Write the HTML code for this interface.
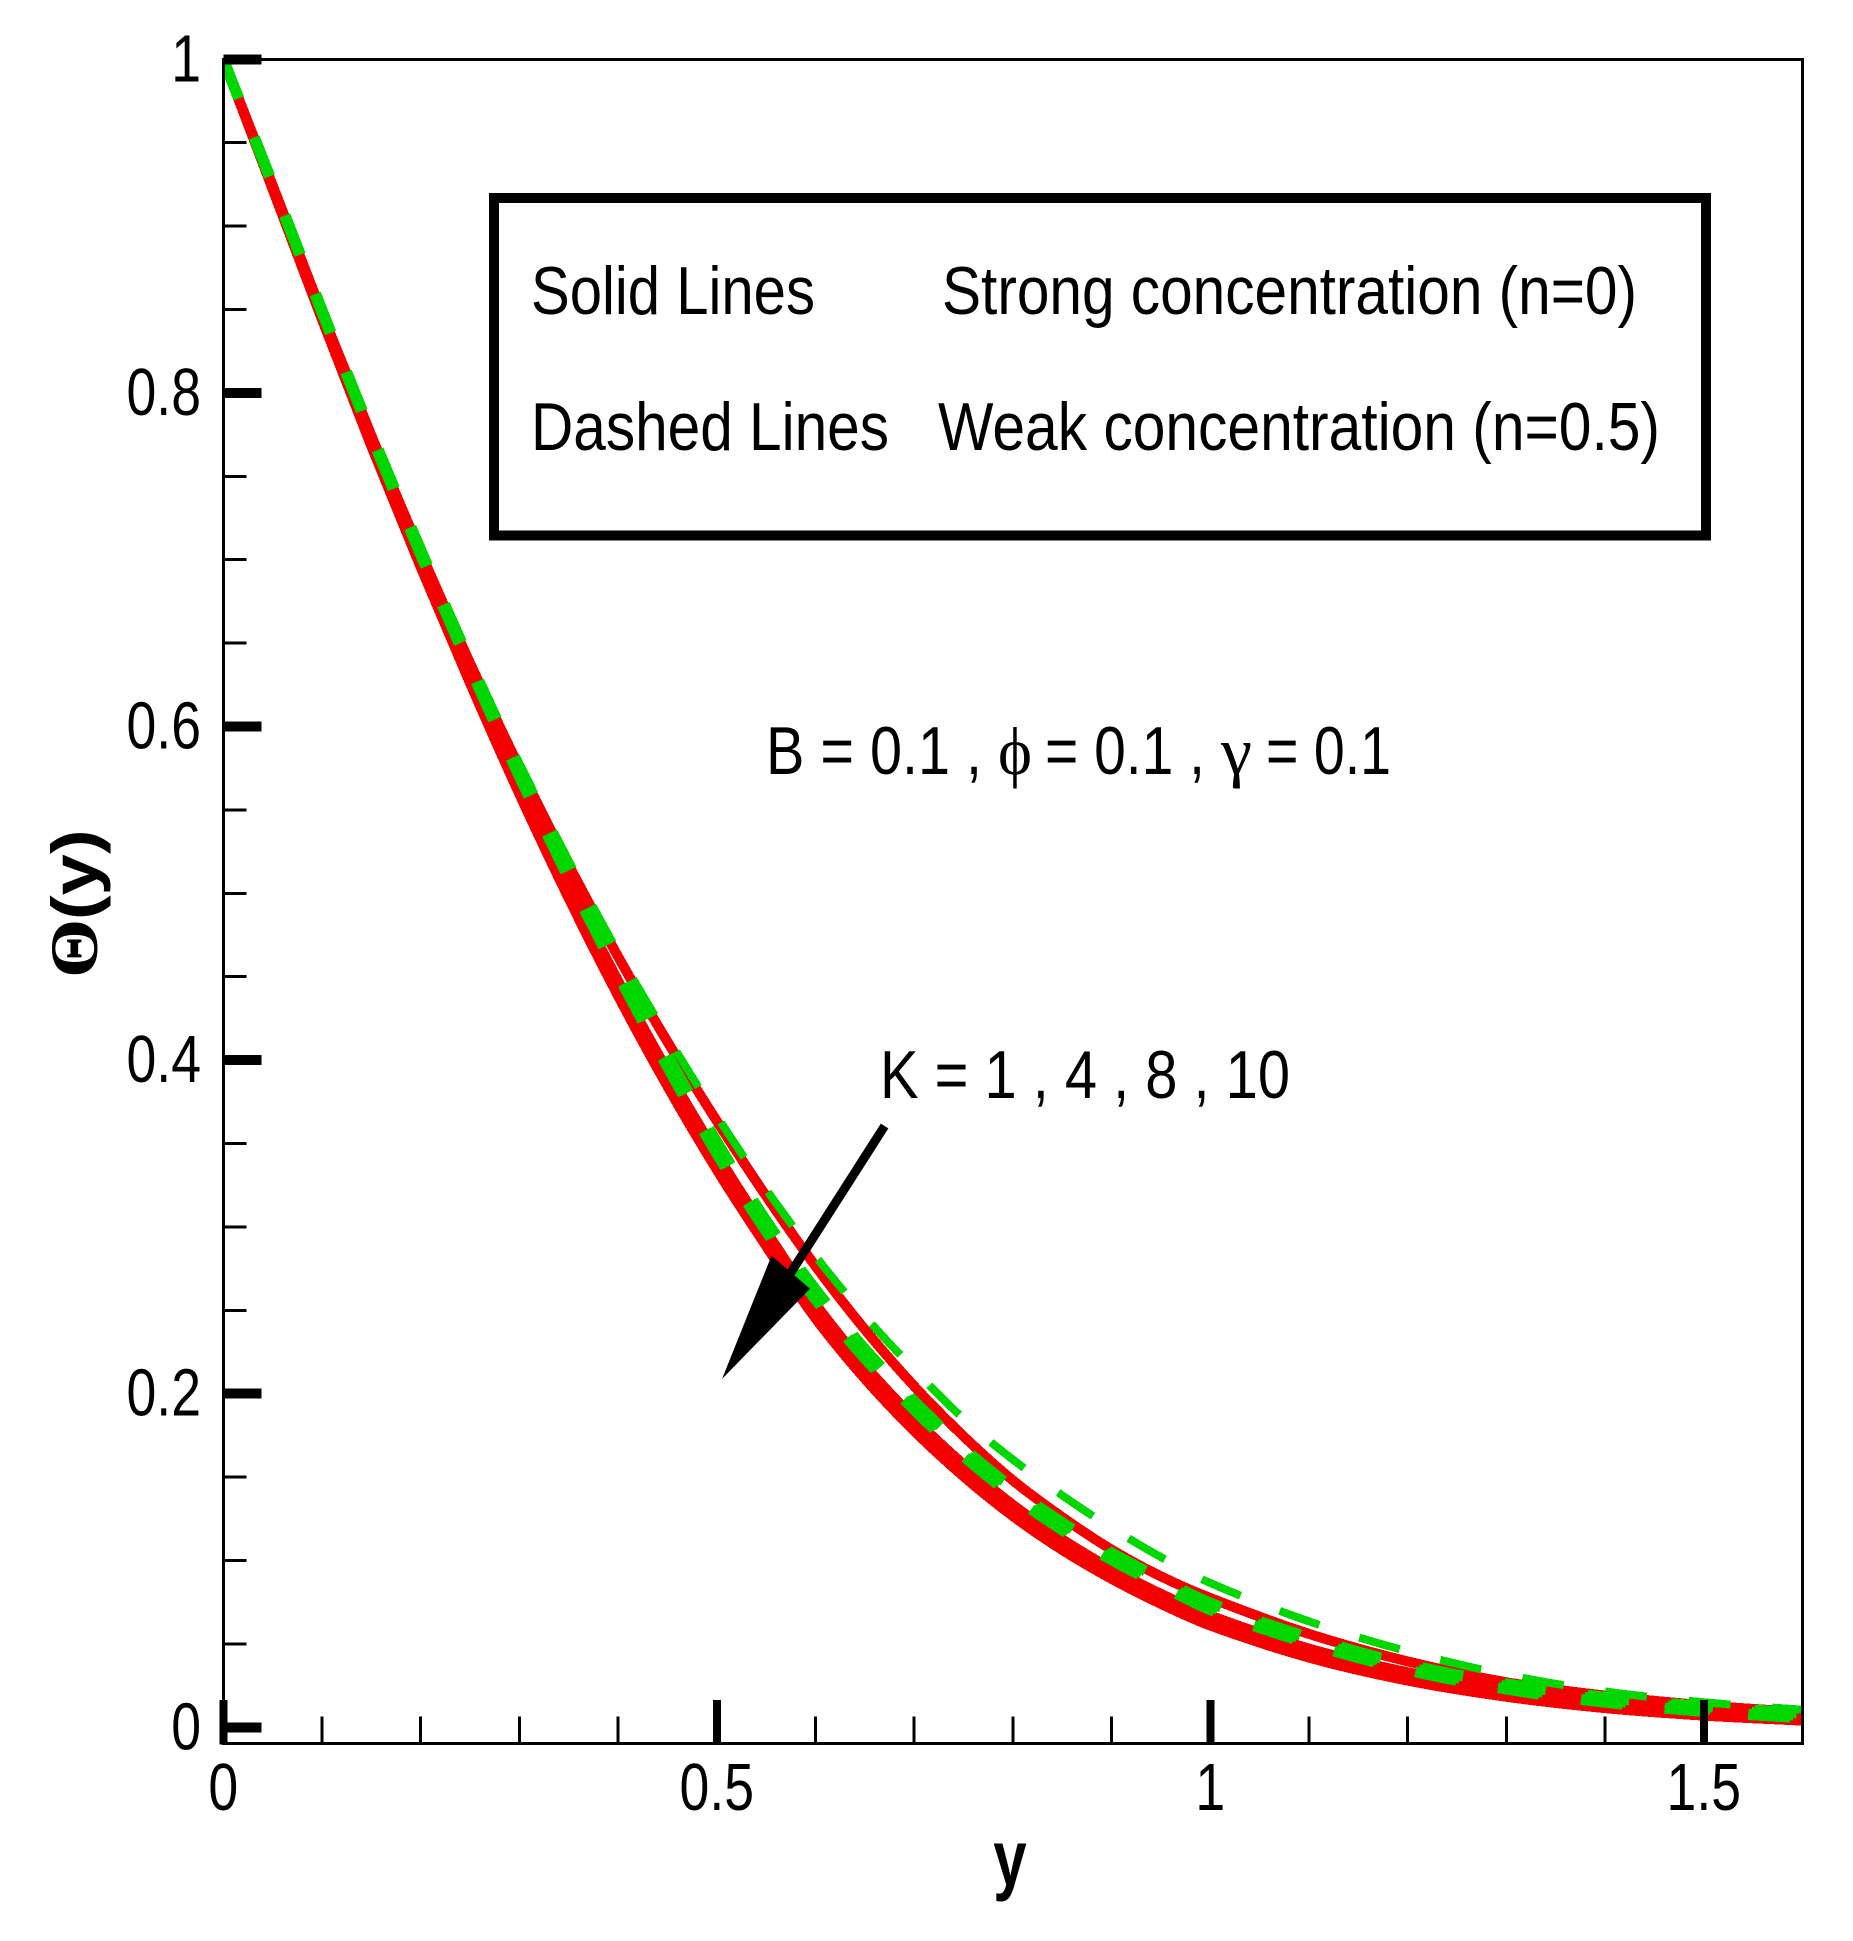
<!DOCTYPE html>
<html lang="en">
<head>
<meta charset="utf-8">
<title>Theta(y) profile chart</title>
<style>
html,body{margin:0;padding:0;background:#fff;}
svg{display:block;position:absolute;left:0;top:0;}
text{font-family:"Liberation Sans",Arial,sans-serif;fill:#000;}
.serif{font-family:"Liberation Serif","DejaVu Serif",serif;}
</style>
</head>
<body>
<svg id="chart" xmlns="http://www.w3.org/2000/svg" width="1853" height="1941" viewBox="0 0 1853 1941">
  <rect x="0" y="0" width="1853" height="1941" fill="#fff"/>
  <defs><clipPath id="plot-clip"><rect x="223.3" y="59.3" width="1579" height="1684.2"/></clipPath></defs>
  <g id="curves" clip-path="url(#plot-clip)"></g>
  <g id="axes"></g>

  <rect x="494" y="198" width="1212" height="337.5" fill="none" stroke="#000" stroke-width="10" shape-rendering="crispEdges"/>
  <text x="531" y="314" font-size="68" textLength="284" lengthAdjust="spacingAndGlyphs">Solid Lines</text>
  <text x="942" y="314" font-size="68" textLength="695" lengthAdjust="spacingAndGlyphs">Strong concentration (n=0)</text>
  <text x="531" y="450" font-size="68" textLength="358" lengthAdjust="spacingAndGlyphs">Dashed Lines</text>
  <text x="938" y="450" font-size="68" textLength="722" lengthAdjust="spacingAndGlyphs">Weak concentration (n=0.5)</text>

  <g>
    <text x="766" y="774" font-size="68" textLength="216" lengthAdjust="spacingAndGlyphs">B = 0.1 ,</text>
    <text class="serif" x="998" y="774" font-size="68" textLength="34" lengthAdjust="spacingAndGlyphs">ϕ</text>
    <text x="1045" y="774" font-size="68" textLength="160" lengthAdjust="spacingAndGlyphs">= 0.1 ,</text>
    <text class="serif" x="1221" y="774" font-size="68" textLength="31" lengthAdjust="spacingAndGlyphs">γ</text>
    <text x="1266" y="774" font-size="68" textLength="125" lengthAdjust="spacingAndGlyphs">= 0.1</text>
  </g>

  <text x="880" y="1098" font-size="68" textLength="410" lengthAdjust="spacingAndGlyphs">K = 1 , 4 , 8 , 10</text>
  <g>
    <line x1="884.6" y1="1126" x2="790" y2="1274" stroke="#000" stroke-width="9"/>
    <polygon points="722,1379 771.5,1255.7 810,1288.7" fill="#000"/>
  </g>

  <text font-weight="bold" font-size="79" text-anchor="middle" transform="translate(1010,1885) scale(0.76,1)">y</text>
  <g>
    <text class="serif" font-weight="bold" font-size="68" transform="translate(97,978) rotate(-90) scale(1.12,1)">Θ</text>
    <text font-weight="bold" font-size="65" transform="translate(97,920) rotate(-90) scale(1.14,1)">(y)</text>
  </g>
</svg>
<script>
// Chart data
const xValues = [0,0.05,0.1,0.15,0.2,0.25,0.3,0.35,0.4,0.45,0.5,0.55,0.6,0.65,0.7,0.75,0.8,0.85,0.9,0.95,1,1.1,1.2,1.3,1.4,1.5,1.6];
const solidK1 = [1,0.9245,0.848,0.7745,0.7045,0.638,0.5755,0.517,0.462,0.411,0.3635,0.3185,0.2765,0.2385,0.2045,0.1745,0.148,0.126,0.1065,0.0905,0.0775,0.056,0.0395,0.027,0.019,0.0132,0.009];
const solidK4 = [1,0.924,0.847,0.772,0.7005,0.632,0.5665,0.505,0.4475,0.3937,0.3437,0.2975,0.2538,0.217,0.1853,0.1576,0.1334,0.1127,0.095,0.08,0.067,0.0472,0.033,0.0227,0.0155,0.0106,0.007];
const solidK8 = [1,0.923,0.8455,0.77,0.698,0.629,0.563,0.501,0.443,0.389,0.339,0.293,0.2495,0.213,0.1815,0.154,0.13,0.1095,0.092,0.077,0.064,0.0445,0.0305,0.0205,0.0135,0.0088,0.0055];
const solidK10 = [1,0.922,0.844,0.768,0.6955,0.626,0.5595,0.497,0.4385,0.3843,0.3343,0.2885,0.2452,0.209,0.1777,0.1504,0.1266,0.1063,0.089,0.074,0.061,0.0418,0.028,0.0183,0.0115,0.007,0.004];
const dashedK1 = [1,0.9255,0.8495,0.776,0.7065,0.6405,0.578,0.5195,0.4645,0.414,0.3665,0.3225,0.2825,0.2465,0.2145,0.185,0.1605,0.139,0.1195,0.102,0.0865,0.0635,0.0455,0.0315,0.0215,0.015,0.0105];
const dashedK4 = [1,0.9255,0.8497,0.776,0.706,0.639,0.575,0.515,0.458,0.403,0.351,0.3037,0.2625,0.2268,0.1956,0.1674,0.1433,0.1227,0.1046,0.089,0.0745,0.0538,0.0377,0.0261,0.018,0.0125,0.0084];
const dashedK8 = [1,0.925,0.849,0.775,0.7045,0.637,0.5725,0.512,0.4545,0.3995,0.3475,0.3005,0.2595,0.224,0.193,0.165,0.141,0.1205,0.1025,0.087,0.0725,0.052,0.036,0.0245,0.0165,0.011,0.007];
const dashedK10 = [1,0.9245,0.8483,0.774,0.703,0.635,0.57,0.509,0.451,0.396,0.344,0.2973,0.2565,0.2212,0.1904,0.1626,0.1387,0.1183,0.1004,0.085,0.0705,0.0502,0.0343,0.0229,0.015,0.0095,0.0056];
const xTickValues = [0,0.5,1,1.5];
const xTickLabels = ["0","0.5","1","1.5"];
const yTickValues = [0,0.2,0.4,0.6,0.8,1];
const yTickLabels = ["0","0.2","0.4","0.6","0.8","1"];
const xMinorTicks = [0.1,0.2,0.3,0.4,0.6,0.7,0.8,0.9,1.1,1.2,1.3,1.4,1.6];
const yMinorTicks = [0.05,0.1,0.15,0.25,0.3,0.35,0.45,0.5,0.55,0.65,0.7,0.75,0.85,0.9,0.95];

const NS = 'http://www.w3.org/2000/svg';
const plotLeft = 223.3, pxPerX = 987;
const plotTopValueY = 59.3, pxPerY = 1668;
const plotBottom = 1743.5;
const plotRight = xScale(1.6);

function xScale(v){ return plotLeft + v * pxPerX; }
function yScale(v){ return plotTopValueY + (1 - v) * pxPerY; }

function make(tag, attrs, parent){
  const el = document.createElementNS(NS, tag);
  for (const k in attrs) el.setAttribute(k, attrs[k]);
  parent.appendChild(el);
  return el;
}

function curvePath(xs, ys){
  const px = xs.map(xScale), py = ys.map(yScale), n = px.length;
  const m = [];
  for (let i = 0; i < n; i++){
    const a = Math.max(i - 1, 0), b = Math.min(i + 1, n - 1);
    m.push((py[b] - py[a]) / (px[b] - px[a]));
  }
  let d = 'M' + px[0].toFixed(2) + ' ' + py[0].toFixed(2);
  for (let i = 0; i < n - 1; i++){
    const h = (px[i + 1] - px[i]) / 3;
    d += ' C' + (px[i] + h).toFixed(2) + ' ' + (py[i] + m[i] * h).toFixed(2) + ' ' +
         (px[i + 1] - h).toFixed(2) + ' ' + (py[i + 1] - m[i + 1] * h).toFixed(2) + ' ' +
         px[i + 1].toFixed(2) + ' ' + py[i + 1].toFixed(2);
  }
  return d;
}

const curves = document.getElementById('curves');
const axes = document.getElementById('axes');

function drawSeries(ys, color, width, dashed, name){
  const attrs = {d: curvePath(xValues, ys), fill: 'none', stroke: color, 'stroke-width': width, 'shape-rendering': 'crispEdges'};
  if (dashed) attrs['stroke-dasharray'] = '42 42';
  const el = make('path', attrs, curves);
  
  
}

drawSeries(solidK1, '#f50000', 10, false, 'solid-line-k1');
drawSeries(solidK4, '#f50000', 10, false, 'solid-line-k4');
drawSeries(solidK8, '#f50000', 10, false, 'solid-line-k8');
drawSeries(solidK10, '#f50000', 10, false, 'solid-line-k10');
drawSeries(dashedK1, '#00d600', 8, true, 'dashed-line-k1');
drawSeries(dashedK4, '#00d600', 11, true, 'dashed-line-k4');
drawSeries(dashedK8, '#00d600', 11, true, 'dashed-line-k8');
drawSeries(dashedK10, '#00d600', 11, true, 'dashed-line-k10');

const frame = make('rect', {x: plotLeft, y: plotTopValueY, width: plotRight - plotLeft, height: plotBottom - plotTopValueY, fill: 'none', stroke: '#000', 'stroke-width': 3, 'shape-rendering': 'crispEdges'}, axes);



xMinorTicks.forEach(function(v){
  const t = make('line', {x1: xScale(v), x2: xScale(v), y1: plotBottom, y2: plotBottom - 27, stroke: '#000', 'stroke-width': 3, 'shape-rendering': 'crispEdges'}, axes);
  
  
});
yMinorTicks.forEach(function(v){
  const t = make('line', {x1: plotLeft, x2: plotLeft + 23, y1: yScale(v), y2: yScale(v), stroke: '#000', 'stroke-width': 3, 'shape-rendering': 'crispEdges'}, axes);
  
  
});
xTickValues.forEach(function(v, i){
  const t = make('line', {x1: xScale(v), x2: xScale(v), y1: plotBottom + 1, y2: plotBottom - 43.5, stroke: '#000', 'stroke-width': 8, 'shape-rendering': 'crispEdges'}, axes);
  
  
  const l = make('text', {'font-size': 67, 'text-anchor': 'middle', transform: 'translate(' + xScale(v) + ',1810) scale(0.8,1)'}, axes);
  l.textContent = xTickLabels[i];
  
  
});
yTickValues.forEach(function(v, i){
  const t = make('line', {x1: plotLeft, x2: plotLeft + 38, y1: yScale(v), y2: yScale(v), stroke: '#000', 'stroke-width': 10, 'shape-rendering': 'crispEdges'}, axes);
  
  
  const l = make('text', {'font-size': 67, 'text-anchor': 'end', transform: 'translate(201,' + (yScale(v) + 22) + ') scale(0.8,1)'}, axes);
  l.textContent = yTickLabels[i];
  
  
});
</script>
</body>
</html>
